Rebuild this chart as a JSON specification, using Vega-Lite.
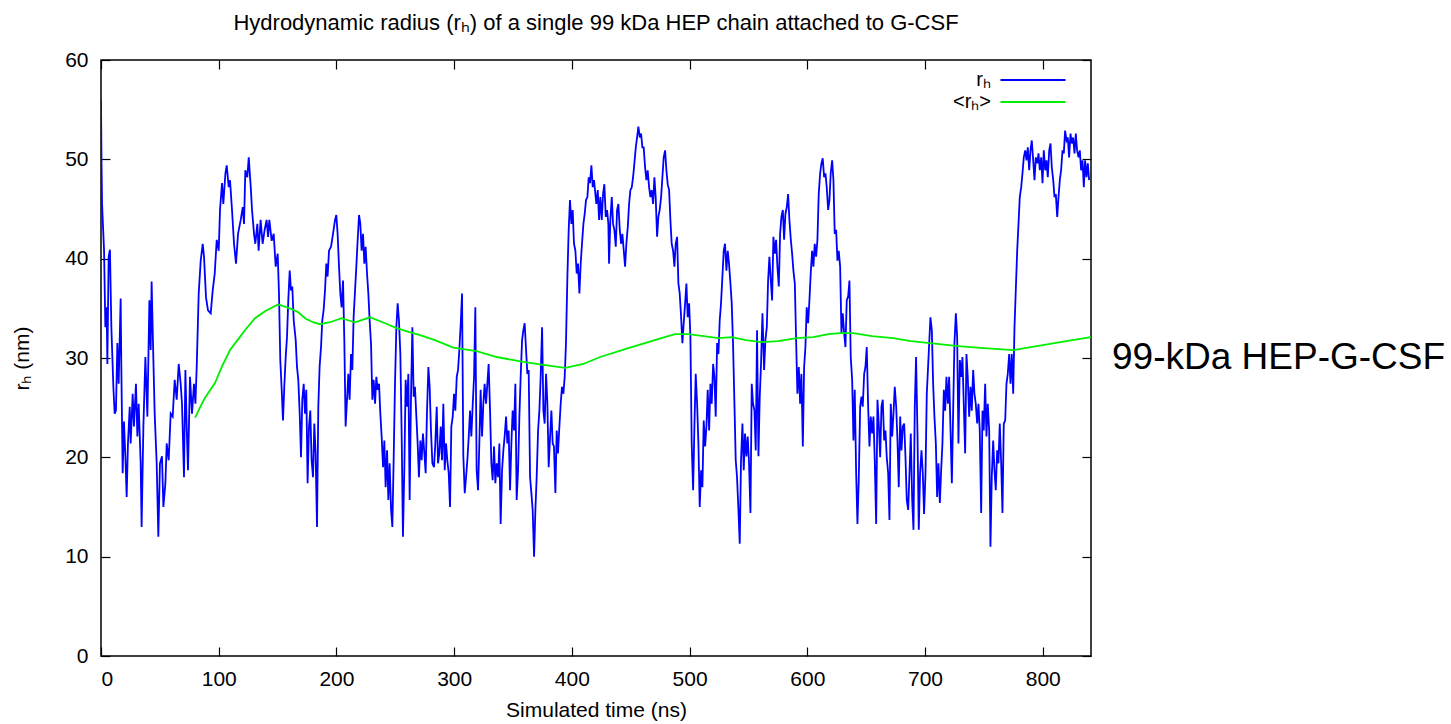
{
  "$schema": "https://vega.github.io/schema/vega-lite/v6.json",
  "width": 990,
  "height": 596,
  "autosize": {"type": "none"},
  "padding": {"left": 101, "top": 60, "right": 360, "bottom": 68},
  "background": "white",
  "title": {"text": "Hydrodynamic radius (rₕ) of a single 99 kDa HEP chain attached to G-CSF", "fontSize": 22, "fontWeight": "normal", "font": "Liberation Sans", "color": "black", "anchor": "middle", "offset": 14},
  "config": {
    "font": "Liberation Sans",
    "view": {"stroke": "black", "strokeWidth": 1.5},
    "axis": {"domain": false, "grid": false, "ticks": true, "tickColor": "black", "tickSize": -9, "tickWidth": 1.2, "labelFont": "Liberation Sans", "labelFontSize": 21, "labelColor": "black", "titleFont": "Liberation Sans", "titleFontSize": 21, "titleFontWeight": "normal", "titleColor": "black"}
  },
  "datasets": {
    "rh": [
      {"t":0,"r":56},{"t":0.4,"r":50},{"t":0.9,"r":45.5},{"t":2.6,"r":40.8},{"t":3.7,"r":33.1},{"t":4.8,"r":35.1},{"t":5.4,"r":29.4},{"t":6.5,"r":40.2},{"t":7.6,"r":40.9},{"t":8.8,"r":33.1},
      {"t":10.5,"r":27.1},{"t":11.6,"r":24.4},{"t":12.7,"r":24.7},{"t":13.9,"r":31.5},{"t":15,"r":27.4},{"t":16.7,"r":36},{"t":17.3,"r":28.8},{"t":18.4,"r":18.4},{"t":19.5,"r":23.6},{"t":20.7,"r":20.1},
      {"t":21.8,"r":16},{"t":22.9,"r":21.4},{"t":24.4,"r":25.1},{"t":25.2,"r":21.4},{"t":26.9,"r":26.4},{"t":28,"r":23.1},{"t":29.7,"r":27.4},{"t":30.9,"r":22.1},{"t":32,"r":25.4},{"t":33.7,"r":19.4},
      {"t":34.5,"r":13},{"t":36,"r":23.1},{"t":37.7,"r":30.1},{"t":39.4,"r":24.1},{"t":41.1,"r":35.8},{"t":42.2,"r":30.8},{"t":43,"r":37.7},{"t":44.5,"r":29.8},{"t":45.6,"r":24.4},{"t":47.3,"r":19.4},
      {"t":48.7,"r":12},{"t":50.1,"r":19.4},{"t":51.8,"r":20.1},{"t":53,"r":15},{"t":54.7,"r":17.4},{"t":55.8,"r":21.4},{"t":57.5,"r":19.7},{"t":59.2,"r":24.4},{"t":60.9,"r":24.1},{"t":62.6,"r":27.8},
      {"t":64.3,"r":25.8},{"t":66,"r":29.4},{"t":67.7,"r":27.4},{"t":68.8,"r":25.4},{"t":70.5,"r":18},{"t":71.7,"r":28.8},{"t":72.8,"r":23.1},{"t":73.9,"r":18.7},{"t":75.6,"r":28.1},{"t":77.3,"r":24.4},
      {"t":79,"r":27.4},{"t":80.2,"r":25.4},{"t":81.3,"r":29.1},{"t":83,"r":36.5},{"t":84.7,"r":39.8},{"t":86.4,"r":41.5},{"t":87.5,"r":40.2},{"t":89.2,"r":36.1},{"t":90.9,"r":34.8},{"t":93.2,"r":34.5},
      {"t":94.9,"r":36.8},{"t":96.6,"r":38.5},{"t":98.3,"r":41.9},{"t":100,"r":40.8},{"t":101.1,"r":44.9},{"t":102.8,"r":47.6},{"t":103.9,"r":45.5},{"t":105.7,"r":48.6},{"t":106.8,"r":49.4},{"t":108.5,"r":47.2},
      {"t":109.6,"r":47.9},{"t":111.3,"r":44.9},{"t":113,"r":41.5},{"t":114.7,"r":39.5},{"t":116.4,"r":42.5},{"t":118.7,"r":43.9},{"t":120.4,"r":45.2},{"t":121.5,"r":43.5},{"t":122.6,"r":48.9},{"t":124.3,"r":48.2},
      {"t":125.5,"r":50.2},{"t":127.2,"r":47.2},{"t":128.3,"r":44.9},{"t":130,"r":42.5},{"t":131.1,"r":41.5},{"t":132.8,"r":43.5},{"t":133.9,"r":40.8},{"t":135.6,"r":43.9},{"t":137.3,"r":41.5},{"t":139,"r":42.9},
      {"t":140.7,"r":43.9},{"t":141.9,"r":42.2},{"t":143,"r":43.9},{"t":145,"r":41.8},{"t":146.7,"r":42.5},{"t":148.4,"r":39.2},{"t":150.1,"r":40.5},{"t":151.2,"r":36.5},{"t":152.3,"r":29.8},{"t":153.5,"r":26.8},
      {"t":154.6,"r":23.7},{"t":155.7,"r":27.1},{"t":156.9,"r":30.1},{"t":158,"r":32.1},{"t":159.1,"r":35.8},{"t":160.3,"r":38.8},{"t":161.4,"r":36.8},{"t":162.5,"r":37.2},{"t":163.7,"r":33.8},{"t":165.4,"r":31.8},
      {"t":166.5,"r":29.1},{"t":167.6,"r":27.8},{"t":168.8,"r":24.4},{"t":169.9,"r":20},{"t":171,"r":25.8},{"t":172.2,"r":27.4},{"t":173.3,"r":24.4},{"t":174.4,"r":26.8},{"t":175.5,"r":17.4},{"t":176.7,"r":23.1},
      {"t":177.8,"r":24.7},{"t":178.9,"r":19.7},{"t":180.1,"r":18},{"t":181.2,"r":23.4},{"t":182.3,"r":20.4},{"t":183.5,"r":13},{"t":184.6,"r":25.1},{"t":185.7,"r":29.1},{"t":186.9,"r":31.1},{"t":188,"r":33.8},
      {"t":189.1,"r":34.8},{"t":190.3,"r":36.8},{"t":191.4,"r":39.5},{"t":192.5,"r":38.2},{"t":193.7,"r":40.8},{"t":195.4,"r":41.2},{"t":197.1,"r":42.5},{"t":198.8,"r":43.9},{"t":199.9,"r":44.4},{"t":201,"r":42.5},
      {"t":202.2,"r":39.2},{"t":203.3,"r":36.5},{"t":204.4,"r":35.1},{"t":205.6,"r":37.8},{"t":206.7,"r":31.8},{"t":207.8,"r":23.1},{"t":209,"r":25.8},{"t":210.1,"r":28.4},{"t":211.2,"r":25.8},{"t":212.4,"r":30.4},
      {"t":213.5,"r":28.8},{"t":214.6,"r":34.1},{"t":215.8,"r":36.8},{"t":216.9,"r":39.2},{"t":218,"r":41.8},{"t":219.2,"r":44.4},{"t":220.3,"r":43.5},{"t":221.4,"r":40.8},{"t":222.6,"r":42.5},{"t":223.7,"r":39.5},
      {"t":224.8,"r":41.2},{"t":226,"r":38.5},{"t":227.1,"r":36.5},{"t":228.2,"r":33.8},{"t":229.4,"r":31.4},{"t":230.5,"r":25.8},{"t":231.6,"r":27.8},{"t":232.8,"r":25.4},{"t":233.9,"r":28.1},{"t":235,"r":26.8},
      {"t":236.2,"r":27.4},{"t":237.3,"r":24.4},{"t":238.4,"r":22.1},{"t":239.6,"r":19},{"t":240.7,"r":21.7},{"t":241.8,"r":17},{"t":243,"r":20.7},{"t":244.1,"r":15.7},{"t":245.2,"r":19.4},{"t":246.4,"r":14.7},
      {"t":247.5,"r":13},{"t":248.6,"r":19.7},{"t":249.7,"r":27.1},{"t":250.9,"r":33.1},{"t":252,"r":35.5},{"t":253.1,"r":33.8},{"t":254.3,"r":30.4},{"t":255.4,"r":22.4},{"t":256.5,"r":12},{"t":257.7,"r":19},
      {"t":258.8,"r":27.8},{"t":259.9,"r":25.1},{"t":261.1,"r":28.4},{"t":262.2,"r":15.7},{"t":263.3,"r":25.8},{"t":264.5,"r":33.1},{"t":265.6,"r":26.1},{"t":266.7,"r":27.1},{"t":267.9,"r":24.1},{"t":269,"r":21.4},
      {"t":270.1,"r":18},{"t":271.3,"r":21.7},{"t":272.4,"r":19.7},{"t":273.5,"r":22.4},{"t":274.7,"r":20.4},{"t":275.8,"r":18.4},{"t":276.9,"r":24.4},{"t":278.1,"r":29.1},{"t":279.2,"r":27.1},{"t":280.3,"r":22.7},
      {"t":281.5,"r":19.4},{"t":282.9,"r":19},{"t":284,"r":21.4},{"t":285.2,"r":25.1},{"t":286.3,"r":19.4},{"t":287.4,"r":20.4},{"t":288.6,"r":23.1},{"t":289.7,"r":19.7},{"t":290.8,"r":25.4},{"t":292,"r":18.7},
      {"t":293.1,"r":21.4},{"t":294.2,"r":19.7},{"t":295.4,"r":18.4},{"t":296.5,"r":15},{"t":297.6,"r":23.1},{"t":298.8,"r":24.1},{"t":299.9,"r":26.4},{"t":301,"r":24.7},{"t":302.2,"r":28.1},{"t":303.3,"r":28.8},
      {"t":304.4,"r":30.8},{"t":305.6,"r":33.5},{"t":306.7,"r":36.5},{"t":307.8,"r":20.1},{"t":309,"r":16.4},{"t":310.1,"r":18},{"t":311.2,"r":19.7},{"t":312.4,"r":22.1},{"t":313.5,"r":24.7},{"t":314.6,"r":22.1},
      {"t":315.8,"r":25.4},{"t":316.9,"r":28.1},{"t":318,"r":35.1},{"t":319.1,"r":18.7},{"t":320.3,"r":16.7},{"t":321.4,"r":21.4},{"t":322.5,"r":26.8},{"t":323.7,"r":22.1},{"t":324.8,"r":25.4},{"t":325.9,"r":27.4},
      {"t":327.1,"r":25.4},{"t":328.2,"r":27.4},{"t":329.3,"r":29.4},{"t":330.5,"r":24.7},{"t":331.6,"r":19.4},{"t":332.7,"r":17.7},{"t":333.9,"r":21.1},{"t":335,"r":17.4},{"t":336.1,"r":19.4},{"t":337.3,"r":18},
      {"t":338.4,"r":21.4},{"t":339.5,"r":13.3},{"t":340.7,"r":18.7},{"t":341.8,"r":20.7},{"t":342.9,"r":22.1},{"t":344.1,"r":24.1},{"t":345.2,"r":21.4},{"t":346.3,"r":22.7},{"t":347.5,"r":16.7},{"t":348.6,"r":21.4},
      {"t":349.7,"r":24.7},{"t":350.9,"r":22.7},{"t":352,"r":27.4},{"t":353.1,"r":15.7},{"t":354.3,"r":18.7},{"t":355.4,"r":24.1},{"t":356.5,"r":28.1},{"t":357.7,"r":31.8},{"t":358.8,"r":32.8},{"t":359.9,"r":33.5},
      {"t":361.1,"r":30.8},{"t":362.2,"r":28.4},{"t":363.3,"r":28.8},{"t":364.5,"r":18},{"t":365.6,"r":16.4},{"t":366.7,"r":14.7},{"t":367.9,"r":10},{"t":369,"r":14.7},{"t":370.1,"r":18},{"t":371.3,"r":22.7},
      {"t":372.4,"r":24.7},{"t":373.5,"r":28.1},{"t":374.7,"r":33.1},{"t":375.8,"r":24.7},{"t":376.9,"r":23.4},{"t":378.1,"r":28.4},{"t":379.2,"r":25.4},{"t":380.3,"r":19},{"t":381.5,"r":22.1},{"t":382.6,"r":24.7},
      {"t":383.7,"r":21.4},{"t":384.8,"r":21.1},{"t":386,"r":16.4},{"t":387.1,"r":22.7},{"t":388.2,"r":20.4},{"t":389.4,"r":23.1},{"t":390.5,"r":25.4},{"t":391.6,"r":27.1},{"t":392.8,"r":26.4},{"t":393.9,"r":28.1},
      {"t":395,"r":31.5},{"t":396.2,"r":38.2},{"t":397.3,"r":42.9},{"t":398.4,"r":45.9},{"t":399.6,"r":43.5},{"t":400.7,"r":44.9},{"t":401.8,"r":41.5},{"t":403,"r":40.8},{"t":404.1,"r":38.5},{"t":405.2,"r":39.5},
      {"t":406.4,"r":36.5},{"t":407.5,"r":39.5},{"t":408.6,"r":41.5},{"t":409.8,"r":43.5},{"t":410.9,"r":44.5},{"t":412,"r":45.9},{"t":413.2,"r":46.2},{"t":414.3,"r":48.2},{"t":415.4,"r":47.6},{"t":416.6,"r":49.4},
      {"t":417.7,"r":47.2},{"t":418.8,"r":47.9},{"t":420.8,"r":45.5},{"t":422,"r":46.9},{"t":423.1,"r":43.9},{"t":424.2,"r":46.2},{"t":425.4,"r":43.9},{"t":426.5,"r":46.5},{"t":427.6,"r":47.5},{"t":428.8,"r":44.2},
      {"t":429.9,"r":44.9},{"t":431,"r":43.5},{"t":431.6,"r":39.5},{"t":432.7,"r":43.9},{"t":433.9,"r":46.2},{"t":435,"r":43.5},{"t":436.1,"r":42.9},{"t":437.3,"r":41.2},{"t":438.4,"r":44.9},{"t":439.5,"r":45.5},
      {"t":440.7,"r":42.9},{"t":441.8,"r":41.5},{"t":442.9,"r":42.5},{"t":444.1,"r":40.8},{"t":445.2,"r":39.2},{"t":446.3,"r":41.5},{"t":447.5,"r":43.2},{"t":448.6,"r":45.5},{"t":449.7,"r":46.9},{"t":450.9,"r":47.2},
      {"t":452,"r":48.2},{"t":453.1,"r":49.6},{"t":454.3,"r":51.2},{"t":455.4,"r":52.2},{"t":456.5,"r":53.3},{"t":457.7,"r":52.2},{"t":458.8,"r":52.6},{"t":459.9,"r":51.2},{"t":461,"r":51.2},{"t":462.2,"r":49.2},
      {"t":463.3,"r":47.9},{"t":464.4,"r":48.9},{"t":465.6,"r":47.2},{"t":466.7,"r":46.2},{"t":467.8,"r":46.9},{"t":469,"r":45.5},{"t":470.1,"r":48.2},{"t":471.2,"r":46.2},{"t":472.4,"r":42.2},{"t":473.5,"r":44.2},
      {"t":474.6,"r":44.9},{"t":475.8,"r":46.2},{"t":476.9,"r":48.2},{"t":478,"r":50.2},{"t":479.2,"r":50.9},{"t":480.3,"r":48.9},{"t":481.4,"r":47.5},{"t":482.6,"r":46.9},{"t":483.7,"r":43.9},{"t":484.8,"r":41.5},
      {"t":486,"r":40.8},{"t":487.1,"r":39.2},{"t":488.2,"r":41.5},{"t":489.4,"r":42.2},{"t":490.5,"r":37.5},{"t":491.6,"r":36.5},{"t":492.8,"r":34.1},{"t":493.9,"r":31.5},{"t":495,"r":33.5},{"t":496.2,"r":35.5},
      {"t":497.3,"r":37.5},{"t":498.4,"r":34.1},{"t":499.6,"r":35.5},{"t":500.7,"r":32.1},{"t":501.8,"r":21.4},{"t":503,"r":16.7},{"t":504.1,"r":23.1},{"t":505.2,"r":28.4},{"t":506.4,"r":25.4},{"t":507.5,"r":21.4},
      {"t":508.6,"r":15},{"t":509.8,"r":18.7},{"t":510.9,"r":17},{"t":512,"r":23.7},{"t":513.2,"r":21.1},{"t":514.3,"r":23.1},{"t":515.4,"r":26.8},{"t":516.6,"r":22.7},{"t":517.7,"r":27.4},{"t":518.8,"r":25.4},
      {"t":520,"r":29.4},{"t":521.1,"r":28.1},{"t":522.2,"r":24.1},{"t":523.4,"r":31.5},{"t":524.5,"r":30.4},{"t":525.6,"r":33.8},{"t":526.7,"r":35.5},{"t":527.9,"r":38.2},{"t":529,"r":40.8},{"t":530.1,"r":41.5},
      {"t":531.3,"r":38.8},{"t":532.4,"r":40.8},{"t":533.5,"r":39.5},{"t":534.7,"r":37.5},{"t":535.8,"r":35.5},{"t":536.9,"r":31.5},{"t":538.1,"r":25.4},{"t":539.2,"r":19.7},{"t":540.3,"r":18},{"t":541.5,"r":14.7},
      {"t":542.6,"r":11.3},{"t":543.7,"r":19.7},{"t":544.9,"r":23.4},{"t":546,"r":18.7},{"t":547.1,"r":22.4},{"t":548.3,"r":20.1},{"t":549.4,"r":22.1},{"t":550.5,"r":19.4},{"t":551.7,"r":14.4},{"t":552.8,"r":27.4},
      {"t":553.9,"r":25.4},{"t":555.1,"r":24.7},{"t":556.2,"r":20.7},{"t":557.3,"r":32.8},{"t":558.5,"r":20.1},{"t":559.6,"r":26.1},{"t":560.7,"r":29.4},{"t":561.9,"r":34.5},{"t":563.3,"r":28.8},{"t":564.4,"r":31.8},
      {"t":565.6,"r":33.1},{"t":566.7,"r":37.8},{"t":567.8,"r":40.2},{"t":569,"r":37.8},{"t":570.1,"r":35.8},{"t":571.2,"r":42.2},{"t":572.4,"r":40.5},{"t":573.5,"r":41.9},{"t":574.6,"r":39.2},{"t":575.8,"r":37.2},
      {"t":576.9,"r":42.5},{"t":578,"r":44.2},{"t":579.2,"r":44.9},{"t":580.3,"r":41.9},{"t":581.4,"r":44.5},{"t":582.6,"r":45.2},{"t":583.7,"r":46.5},{"t":584.8,"r":43.9},{"t":586,"r":41.9},{"t":587.1,"r":40.5},
      {"t":588.2,"r":38.8},{"t":589.4,"r":37.5},{"t":590.5,"r":31.8},{"t":591.6,"r":26.4},{"t":592.8,"r":29.1},{"t":593.9,"r":25.4},{"t":595,"r":28.4},{"t":596.2,"r":21.1},{"t":597.3,"r":29.1},{"t":598.4,"r":31.1},
      {"t":599.5,"r":35.1},{"t":600.7,"r":33.5},{"t":601.8,"r":35.8},{"t":602.9,"r":38.5},{"t":604.1,"r":40.8},{"t":605.2,"r":39.2},{"t":606.3,"r":41.5},{"t":607.5,"r":40.2},{"t":608.6,"r":41.9},{"t":609.7,"r":46.5},
      {"t":610.9,"r":48.6},{"t":612,"r":49.6},{"t":613.1,"r":50.1},{"t":614.3,"r":48.2},{"t":615.4,"r":48.6},{"t":616.5,"r":47.2},{"t":617.7,"r":44.9},{"t":618.8,"r":45.9},{"t":619.9,"r":48.6},{"t":621.1,"r":49.9},
      {"t":622.2,"r":47.9},{"t":623.3,"r":42.5},{"t":624.5,"r":42.9},{"t":625.6,"r":39.8},{"t":626.7,"r":40.8},{"t":627.9,"r":39.2},{"t":629,"r":32.5},{"t":630.1,"r":34.5},{"t":631.3,"r":32.5},{"t":632.4,"r":31.1},
      {"t":633.5,"r":35.8},{"t":634.7,"r":36.2},{"t":635.8,"r":37.8},{"t":636.9,"r":30.1},{"t":638.1,"r":27.8},{"t":639.2,"r":21.7},{"t":640.3,"r":26.8},{"t":641.5,"r":18.4},{"t":642.6,"r":13.3},{"t":643.7,"r":17.7},
      {"t":644.9,"r":25.1},{"t":646,"r":26.1},{"t":647.1,"r":25.1},{"t":648.3,"r":28.4},{"t":649.4,"r":29.1},{"t":650.5,"r":31.1},{"t":651.7,"r":25.1},{"t":652.8,"r":21.1},{"t":653.9,"r":24.1},{"t":655.1,"r":22.4},
      {"t":656.2,"r":24.1},{"t":657.3,"r":19.7},{"t":658.5,"r":13.3},{"t":659.6,"r":25.8},{"t":660.7,"r":23.4},{"t":661.9,"r":20},{"t":663,"r":25.1},{"t":664.1,"r":25.8},{"t":665.3,"r":21.7},{"t":666.4,"r":22.7},
      {"t":667.5,"r":20},{"t":668.7,"r":18.4},{"t":669.8,"r":13.7},{"t":670.9,"r":25.4},{"t":672.1,"r":22.1},{"t":673.2,"r":24.4},{"t":674.3,"r":27.1},{"t":675.5,"r":25.1},{"t":676.6,"r":21.7},{"t":677.7,"r":17},
      {"t":678.9,"r":24.1},{"t":680,"r":20.7},{"t":681.1,"r":23.1},{"t":682.3,"r":23.4},{"t":683.4,"r":20},{"t":684.5,"r":15.7},{"t":685.7,"r":14.7},{"t":686.8,"r":18.4},{"t":687.9,"r":22.4},{"t":689.1,"r":15.7},
      {"t":690.2,"r":12.7},{"t":691.3,"r":25.1},{"t":692.4,"r":30.1},{"t":693.6,"r":22.4},{"t":694.7,"r":12.7},{"t":695.8,"r":18.4},{"t":697,"r":20.7},{"t":698.1,"r":18.4},{"t":699.2,"r":14.3},{"t":700.4,"r":18.4},
      {"t":701.5,"r":26.4},{"t":702.6,"r":29.1},{"t":704.6,"r":34.1},{"t":705.8,"r":32.8},{"t":706.9,"r":27.4},{"t":708,"r":24.1},{"t":709.2,"r":21.4},{"t":710.3,"r":16},{"t":711.4,"r":19.4},{"t":712.6,"r":15.4},
      {"t":713.7,"r":18.7},{"t":714.8,"r":21.4},{"t":716,"r":26.8},{"t":717.1,"r":24.7},{"t":718.2,"r":28.1},{"t":719.4,"r":25.4},{"t":720.5,"r":28.1},{"t":721.6,"r":23.1},{"t":722.8,"r":17.4},{"t":723.9,"r":24.7},
      {"t":725,"r":31.5},{"t":726.2,"r":34.5},{"t":727.3,"r":32.1},{"t":728.4,"r":21.4},{"t":729.6,"r":29.8},{"t":730.7,"r":28.1},{"t":731.8,"r":30.1},{"t":732.9,"r":25.4},{"t":734.1,"r":20.4},{"t":735.2,"r":30.4},
      {"t":736.3,"r":28.1},{"t":737.5,"r":24.1},{"t":738.6,"r":27.1},{"t":739.7,"r":24.7},{"t":740.9,"r":28.8},{"t":742,"r":26.4},{"t":743.1,"r":25.4},{"t":744.3,"r":23.4},{"t":745.4,"r":25.4},{"t":746.5,"r":22.7},
      {"t":747.7,"r":14.4},{"t":748.8,"r":24.7},{"t":749.9,"r":22.7},{"t":751.1,"r":27.4},{"t":752.2,"r":22.1},{"t":753.3,"r":25.4},{"t":754.5,"r":22.7},{"t":755.6,"r":11},{"t":756.7,"r":18},{"t":757.9,"r":21.7},
      {"t":759,"r":18.7},{"t":760.1,"r":16.7},{"t":761.3,"r":20.7},{"t":762.4,"r":19.4},{"t":763.5,"r":23.4},{"t":764.7,"r":19.4},{"t":765.8,"r":14.4},{"t":766.9,"r":23.4},{"t":768.1,"r":23.7},{"t":769.2,"r":27.4},
      {"t":770.3,"r":28.4},{"t":771.5,"r":30.4},{"t":772.6,"r":27.4},{"t":773.7,"r":30.4},{"t":774.9,"r":26.4},{"t":776,"r":33.1},{"t":777.1,"r":36.8},{"t":778.3,"r":40.8},{"t":779.4,"r":43.5},{"t":780.5,"r":46.2},
      {"t":781.7,"r":47.2},{"t":782.8,"r":48.6},{"t":783.9,"r":50.2},{"t":785.1,"r":50.9},{"t":786.2,"r":49.9},{"t":787.3,"r":51.2},{"t":788.5,"r":48.9},{"t":789.6,"r":50.9},{"t":790.7,"r":51.9},{"t":791.9,"r":49.9},
      {"t":793,"r":47.9},{"t":794.1,"r":50.2},{"t":795.3,"r":49.6},{"t":796.4,"r":50.6},{"t":797.5,"r":48.9},{"t":798.7,"r":50.2},{"t":799.8,"r":47.6},{"t":800.9,"r":50.9},{"t":802.1,"r":48.9},{"t":803.2,"r":49.9},
      {"t":804.3,"r":48.2},{"t":805.5,"r":50.9},{"t":806.6,"r":51.6},{"t":807.7,"r":49.2},{"t":808.9,"r":47.9},{"t":810,"r":46.2},{"t":811.1,"r":46.5},{"t":812.3,"r":44.2},{"t":813.4,"r":46.2},{"t":814.5,"r":47.9},
      {"t":815.6,"r":48.9},{"t":816.8,"r":50.9},{"t":817.9,"r":50.6},{"t":819,"r":52.9},{"t":820.2,"r":51.9},{"t":821.3,"r":52.2},{"t":822.4,"r":50.2},{"t":823.6,"r":52.6},{"t":824.7,"r":51.6},{"t":825.8,"r":52.2},
      {"t":827,"r":50.6},{"t":828.1,"r":52.6},{"t":829.2,"r":50.9},{"t":830.4,"r":50.2},{"t":831.5,"r":50.9},{"t":832.6,"r":48.9},{"t":833.8,"r":49.9},{"t":834.9,"r":47.2},{"t":836,"r":49.9},{"t":837.2,"r":48.2},
      {"t":838.3,"r":49.6},{"t":839.4,"r":47.9}
    ],
    "avg": [
      {"t":80,"r":24},{"t":84,"r":25},{"t":88.4,"r":26},{"t":96.9,"r":27.5},{"t":103,"r":29.2},{"t":109.6,"r":30.8},{"t":116,"r":31.8},{"t":122.3,"r":32.8},{"t":130.8,"r":34},{"t":139.3,"r":34.7},
      {"t":150.4,"r":35.4},{"t":160.6,"r":35},{"t":167.6,"r":34.6},{"t":173.3,"r":34},{"t":180,"r":33.6},{"t":186.1,"r":33.4},{"t":194.6,"r":33.6},{"t":204.4,"r":34},{"t":210,"r":33.8},{"t":215.8,"r":33.6},
      {"t":228.5,"r":34.1},{"t":241.3,"r":33.5},{"t":251.2,"r":33},{"t":262,"r":32.6},{"t":271,"r":32.3},{"t":283.7,"r":31.8},{"t":299.3,"r":31.05},{"t":319.1,"r":30.7},{"t":336.1,"r":30.1},{"t":358.8,"r":29.6},
      {"t":375.8,"r":29.3},{"t":394.4,"r":29},{"t":409.8,"r":29.4},{"t":424,"r":30.1},{"t":448,"r":31},{"t":476,"r":32},{"t":487.7,"r":32.4},{"t":499,"r":32.4},{"t":512,"r":32.2},{"t":524.5,"r":32},
      {"t":535.8,"r":32.1},{"t":548,"r":31.8},{"t":561,"r":31.6},{"t":575,"r":31.7},{"t":591,"r":32},{"t":605,"r":32.1},{"t":618,"r":32.4},{"t":628,"r":32.5},{"t":639,"r":32.5},{"t":655,"r":32.2},
      {"t":673,"r":32},{"t":688,"r":31.7},{"t":704.3,"r":31.5},{"t":728,"r":31.2},{"t":750,"r":31},{"t":775.1,"r":30.8},{"t":800,"r":31.3},{"t":820,"r":31.7},{"t":841,"r":32.1}
    ]
  },
  "layer": [
    {
      "data": {"name": "rh"},
      "mark": {"type": "line", "strokeWidth": 1.8, "clip": true},
      "encoding": {
        "x": {"field": "t", "type": "quantitative", "scale": {"domain": [0, 841], "nice": false, "zero": false}, "axis": {"orient": "bottom", "values": [0,100,200,300,400,500,600,700,800], "title": "Simulated time (ns)", "labelPadding": 21, "titlePadding": 10}},
        "y": {"field": "r", "type": "quantitative", "scale": {"domain": [0, 60], "nice": false}, "axis": {"orient": "left", "values": [0,10,20,30,40,50,60], "title": "rₕ (nm)", "labelPadding": 22, "titlePadding": 32}},
        "color": {"datum": "rₕ", "type": "nominal", "scale": {"domain": ["rₕ", "<rₕ>"], "range": ["#0000ff", "#00ee00"]},
          "legend": {"title": null, "orient": "none", "legendX": 922, "legendY": 10, "direction": "vertical", "symbolType": "M-6.5,0H6.5", "symbolSize": 100, "symbolStrokeWidth": 2, "labelFontSize": 20, "labelColor": "black", "labelFont": "Liberation Sans", "labelAlign": "right", "labelOffset": -52, "rowPadding": 2, "padding": 0}}
      }
    },
    {
      "data": {"name": "avg"},
      "mark": {"type": "line", "strokeWidth": 1.8, "clip": true},
      "encoding": {
        "x": {"field": "t", "type": "quantitative", "axis": {"orient": "top", "values": [0,100,200,300,400,500,600,700,800], "labels": false, "title": null}},
        "y": {"field": "r", "type": "quantitative", "axis": {"orient": "right", "values": [0,10,20,30,40,50,60], "labels": false, "title": null}},
        "color": {"datum": "<rₕ>", "type": "nominal"}
      }
    },
    {
      "data": {"values": [{"label": "99-kDa HEP-G-CSF", "t": 841, "r": 30}]},
      "mark": {"type": "text", "align": "left", "baseline": "middle", "dx": 21, "fontSize": 37, "font": "Liberation Sans", "color": "black", "clip": false},
      "encoding": {
        "x": {"field": "t", "type": "quantitative", "axis": null},
        "y": {"field": "r", "type": "quantitative", "axis": null},
        "text": {"field": "label"}
      }
    }
  ],
  "resolve": {"axis": {"x": "independent", "y": "independent"}}
}
